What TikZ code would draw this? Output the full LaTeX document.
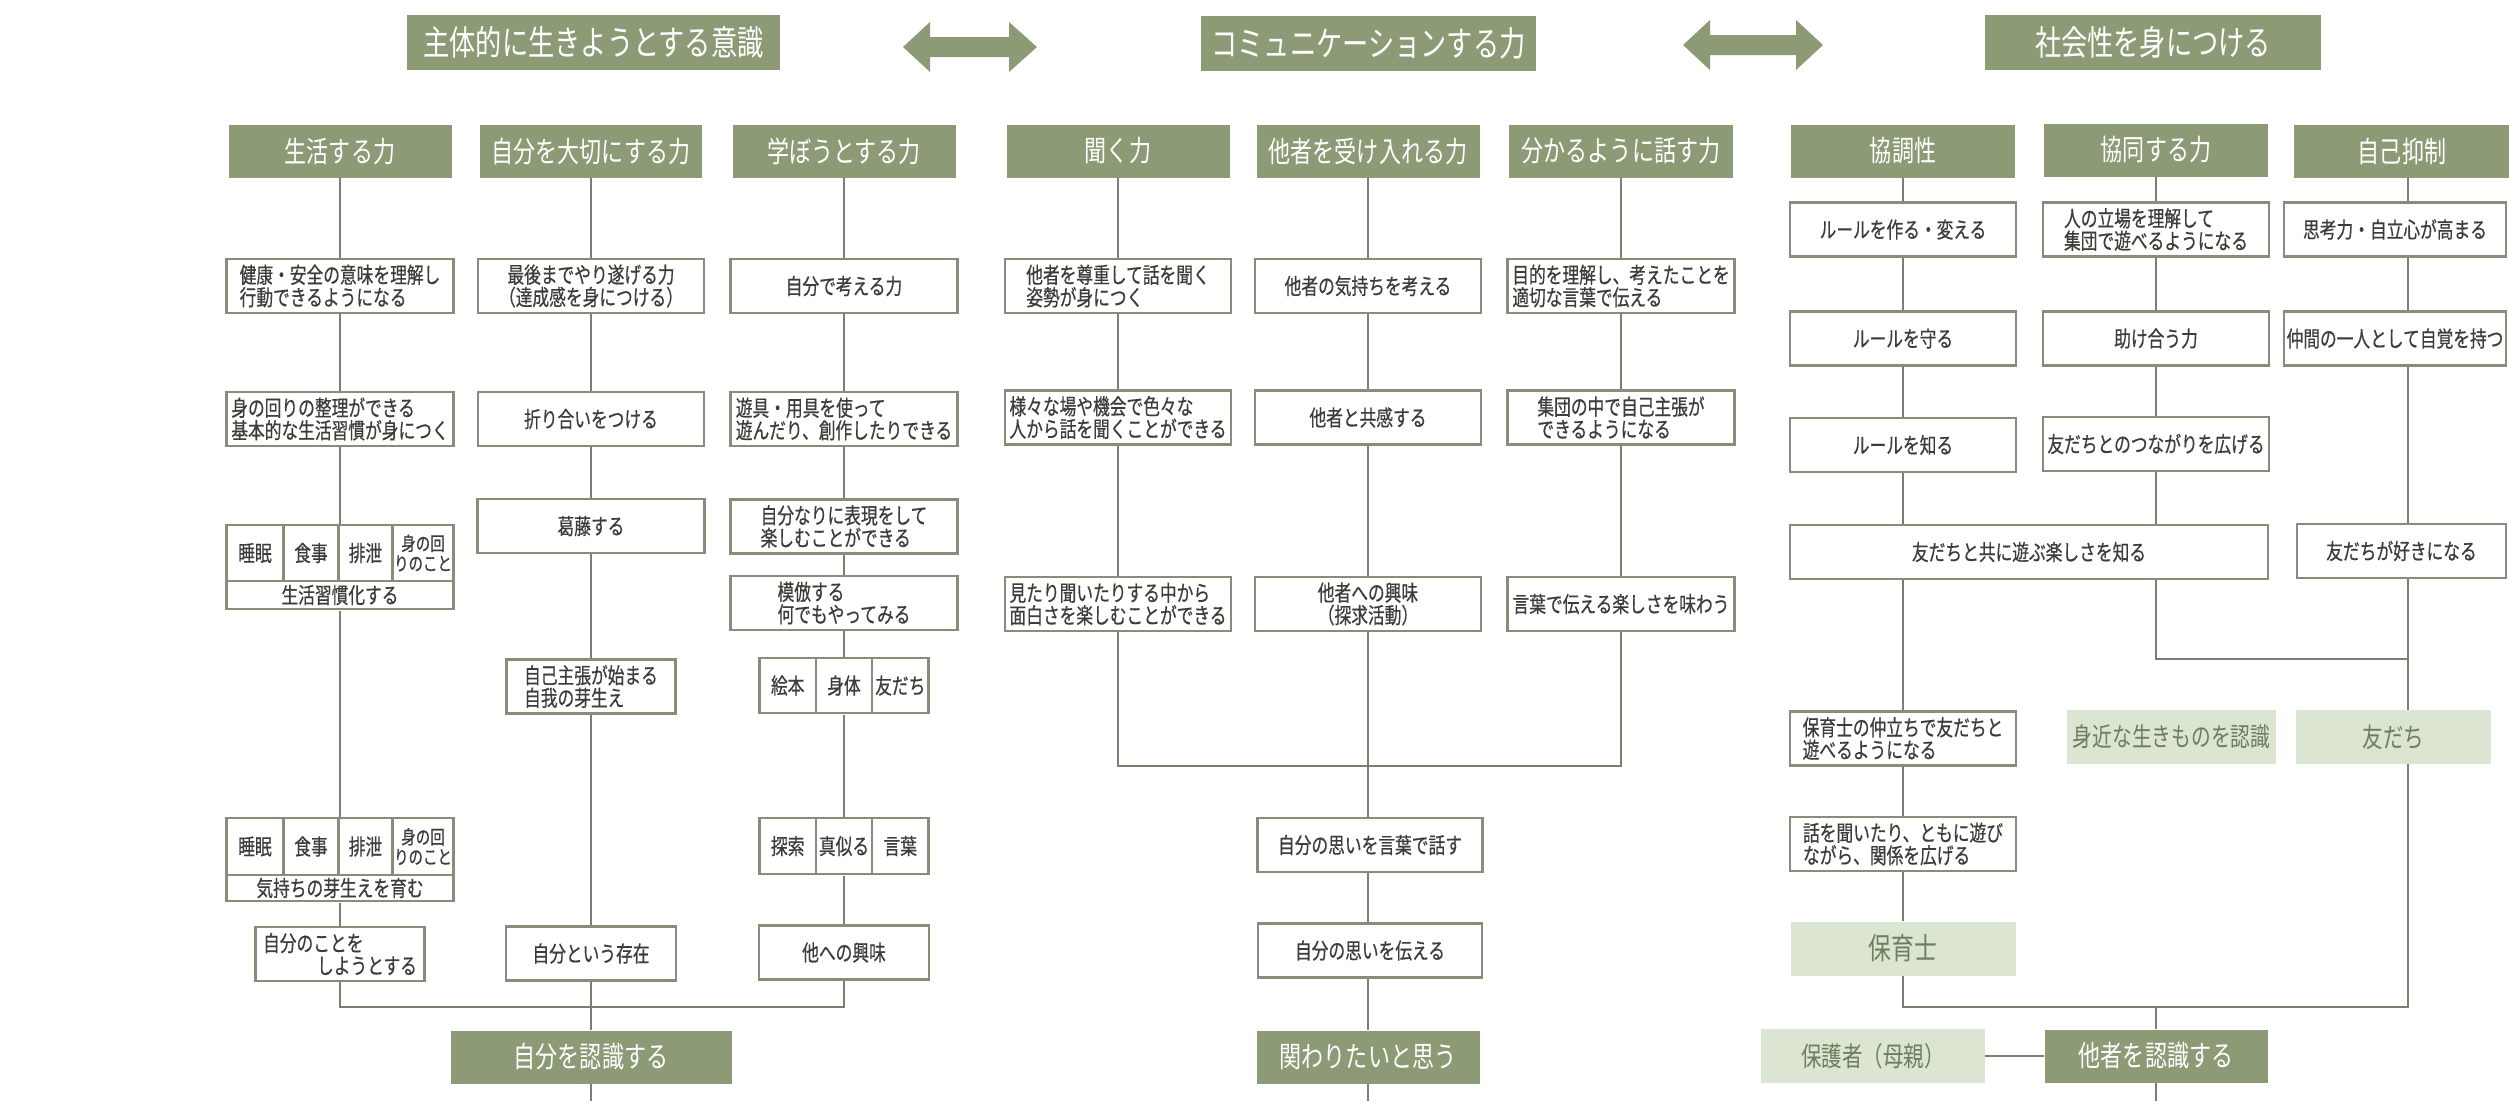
\documentclass[tikz,border=0pt]{standalone}
\usepackage{fontspec}
\setmainfont{Noto Sans CJK JP}[FakeStretch=0.76]
\newfontfamily\boxfont{Noto Sans CJK JP}[FakeStretch=0.76, FakeBold=0.5]
\usepackage{xcolor}
\usetikzlibrary{fit}

\definecolor{hgreen}{RGB}{141,154,118}
\definecolor{lgreen}{RGB}{220,228,210}
\definecolor{ltxt}{RGB}{110,126,92}
\definecolor{bline}{RGB}{139,139,123}
\definecolor{cline}{RGB}{126,126,112}
\definecolor{txt}{RGB}{60,60,56}

\begin{document}
\begin{tikzpicture}[x=1pt, y=-1pt,
  hd/.style={fill=hgreen, text=white, inner sep=0pt, minimum width=223pt,
    minimum height=53pt, font=\fontsize{29}{32}\selectfont},
  ttl/.style={hd, minimum height=55pt, font=\fontsize{34.5}{37}\selectfont},
  box/.style={draw=bline, line width=2.6pt, fill=white, text=txt,
    inner xsep=2pt, inner ysep=0pt, minimum width=226pt, minimum height=54pt,
    align=left, font=\boxfont\fontsize{22}{22.5}\selectfont},
  lbox/.style={fill=lgreen, text=ltxt, inner sep=0pt, minimum height=54pt,
    font=\fontsize{26}{28}\selectfont},
  cell/.style={box, minimum width=56pt, minimum height=56pt, inner xsep=0pt, align=center},
  conn/.style={draw=cline, line width=2pt}
]
  \fill[white] (0,0) rectangle (2509,1101);
  \useasboundingbox (0,0) rectangle (2509,1101);

  % titles and arrows
  \node[ttl, minimum width=373pt] (t1) at (593.5,42.5) {主体的に生きようとする意識};
  \node[ttl, minimum width=335pt] (t2) at (1368.5,43) {コミュニケーションする力};
  \node[ttl, minimum width=336pt] (t3) at (2153,42.5) {社会性を身につける};
  \coordinate (arL) at (903,47);
  \coordinate (arR) at (1683,45);
  \fill[hgreen] (arL) -- ++(27,-25) -- ++(0,15) -- ++(79,0) -- ++(0,-15) -- ++(28,25)
    -- ++(-28,25) -- ++(0,-15) -- ++(-79,0) -- ++(0,15) -- cycle;
  \fill[hgreen] (arR) -- ++(27,-25) -- ++(0,15) -- ++(86,0) -- ++(0,-15) -- ++(27,25)
    -- ++(-27,25) -- ++(0,-15) -- ++(-86,0) -- ++(0,15) -- cycle;

  % headers
  \node[hd] (hA) at (340,151.5) {生活する力};
  \node[hd, minimum width=222pt] (hB) at (591,151.5) {自分を大切にする力};
  \node[hd] (hC) at (844,151.5) {学ぼうとする力};
  \node[hd] (hD) at (1118,151) {聞く力};
  \node[hd] (hE) at (1368,151) {他者を受け入れる力};
  \node[hd, minimum width=224pt] (hF) at (1621,151) {分かるように話す力};
  \node[hd, minimum width=224pt] (hG) at (1903,151) {協調性};
  \node[hd, minimum width=224pt] (hH) at (2156,150) {協同する力};
  \node[hd, minimum width=216pt] (hI) at (2402,151) {自己抑制};

  % left page
  \node[box, minimum width=227pt] (a1) at (340,286) {健康・安全の意味を理解し\\行動できるようになる};
  \node[box, minimum width=227pt] (a2) at (340,419) {身の回りの整理ができる\\基本的な生活習慣が身につく};
  \node[cell, minimum width=57pt] (s1) at (255,553) {睡眠};
  \node[cell, minimum width=55pt] (s2) at (311,553) {食事};
  \node[cell, minimum width=54pt] (s3) at (365.5,553) {排泄};
  \node[cell, minimum width=61pt, font=\boxfont\fontsize{19}{20}\selectfont] (s4) at (423,553) {身の回\\りのこと};
  \node[cell, minimum width=227pt, minimum height=28pt] (s5) at (340,595) {生活習慣化する};
  \node[fit=(s1)(s4)(s5), inner sep=0pt] (habit1) {};
  \node[cell, minimum width=57pt, minimum height=57pt] (k1) at (255,846.5) {睡眠};
  \node[cell, minimum width=55pt, minimum height=57pt] (k2) at (311,846.5) {食事};
  \node[cell, minimum width=54pt, minimum height=57pt] (k3) at (365.5,846.5) {排泄};
  \node[cell, minimum width=61pt, minimum height=57pt, font=\boxfont\fontsize{19}{20}\selectfont] (k4) at (423,846.5) {身の回\\りのこと};
  \node[cell, minimum width=227pt, minimum height=26pt] (k5) at (340,888) {気持ちの芽生えを育む};
  \node[fit=(k1)(k4)(k5), inner sep=0pt] (habit2) {};
  \node[box, minimum width=169pt] (a5) at (340,954) {自分のことを\\\hspace*{54pt}しようとする};

  \node[box, align=center] (b1) at (591,286) {最後までやり遂げる力\\（達成感を身につける）};
  \node[box] (b2) at (591,419) {折り合いをつける};
  \node[box, minimum width=227pt] (b3) at (591,526) {葛藤する};
  \node[box, minimum width=169pt] (b4) at (591,686.5) {自己主張が始まる\\自我の芽生え};
  \node[box, minimum width=170pt] (b5) at (591,953.5) {自分という存在};
  \node[hd, minimum width=281pt] (me) at (591,1057) {自分を認識する};
  \coordinate (mout) at (591,1101);

  \node[box, minimum width=227pt] (c1) at (844,286) {自分で考える力};
  \node[box, minimum width=227pt] (c2) at (844,419) {遊具・用具を使って\\遊んだり、創作したりできる};
  \node[box, minimum width=227pt] (c3) at (844,526.5) {自分なりに表現をして\\楽しむことができる};
  \node[box, minimum width=227pt] (c4) at (844,603) {模倣する\\何でもやってみる};
  \node[cell, minimum width=56.3pt, minimum height=55pt] (e1c) at (787.7,685.5) {絵本};
  \node[cell, minimum width=56.3pt, minimum height=55pt] (e2c) at (844,685.5) {身体};
  \node[cell, minimum width=56.3pt, minimum height=55pt] (e3c) at (900.3,685.5) {友だち};
  \node[fit=(e1c)(e3c), inner sep=0pt] (ehon) {};
  \node[cell, minimum width=56.3pt] (q1c) at (787.7,846) {探索};
  \node[cell, minimum width=56.3pt] (q2c) at (844,846) {真似る};
  \node[cell, minimum width=56.3pt] (q3c) at (900.3,846) {言葉};
  \node[fit=(q1c)(q3c), inner sep=0pt] (tansaku) {};
  \node[box, minimum width=170pt] (c7) at (844,952.5) {他への興味};
  \coordinate (jl) at (591,1007);

  \draw[conn] (hA) -- (a1) -- (a2) -- (habit1) -- (habit2) -- (a5);
  \draw[conn] (hB) -- (b1) -- (b2) -- (b3) -- (b4) -- (b5) -- (me) -- (mout);
  \draw[conn] (hC) -- (c1) -- (c2) -- (c3) -- (c4) -- (ehon) -- (tansaku) -- (c7);
  \draw[conn] (a5) |- (jl) -| (c7);

  % middle page
  \node[box] (d1) at (1118,286) {他者を尊重して話を聞く\\姿勢が身につく};
  \node[box] (d2) at (1118,417.5) {様々な場や機会で色々な\\人から話を聞くことができる};
  \node[box] (d3) at (1118,604) {見たり聞いたりする中から\\面白さを楽しむことができる};
  \node[box] (e1) at (1368,286) {他者の気持ちを考える};
  \node[box] (e2) at (1368,417.5) {他者と共感する};
  \node[box, align=center] (e3) at (1368,604) {他者への興味\\（探求活動）};
  \node[box, minimum width=225pt] (e4) at (1370,845) {自分の思いを言葉で話す};
  \node[box, minimum width=224pt] (e5) at (1370,950.5) {自分の思いを伝える};
  \node[hd] (kk) at (1368,1057) {関わりたいと思う};
  \coordinate (kout) at (1368,1101);
  \node[box, minimum width=227pt] (f1) at (1621,286) {目的を理解し、考えたことを\\適切な言葉で伝える};
  \node[box, minimum width=227pt] (f2) at (1621,417.5) {集団の中で自己主張が\\できるようになる};
  \node[box, minimum width=227pt] (f3) at (1621,604) {言葉で伝える楽しさを味わう};
  \coordinate (jm) at (1368,766);

  \draw[conn] (hD) -- (d1) -- (d2) -- (d3);
  \draw[conn] (hE) -- (e1) -- (e2) -- (e3) -- (e3 |- e4.north);
  \draw[conn] (e4.south -| kk) -- (e5.north -| kk);
  \draw[conn] (e5.south -| kk) -- (kk) -- (kout);
  \draw[conn] (hF) -- (f1) -- (f2) -- (f3);
  \draw[conn] (d3) |- (jm) -| (f3);

  % right page
  \node[box] (g1) at (1903,229.5) {ルールを作る・変える};
  \node[box] (g2) at (1903,338.5) {ルールを守る};
  \node[box] (g3) at (1903,445) {ルールを知る};
  \node[box, minimum width=478pt] (asobu) at (2029,552) {友だちと共に遊ぶ楽しさを知る};
  \node[box] (g5) at (1903,738.5) {保育士の仲立ちで友だちと\\遊べるようになる};
  \node[box] (g6) at (1903,844) {話を聞いたり、ともに遊び\\ながら、関係を広げる};
  \node[lbox, minimum width=225pt, font=\fontsize{30}{32}\selectfont] (hoiku) at (1903,948.5) {保育士};
  \node[box] (h1) at (2156,229.5) {人の立場を理解して\\集団で遊べるようになる};
  \node[box] (h2) at (2156,338.5) {助け合う力};
  \node[box] (h3) at (2156,444) {友だちとのつながりを広げる};
  \node[lbox, minimum width=209pt] (mijika) at (2171.5,737) {身近な生きものを認識};
  \node[box, minimum width=222pt] (i1) at (2395,229.5) {思考力・自立心が高まる};
  \node[box, minimum width=222pt] (i2) at (2395,338.5) {仲間の一人として自覚を持つ};
  \node[box, minimum width=209pt] (i3) at (2401.5,551) {友だちが好きになる};
  \node[lbox, minimum width=195pt, font=\fontsize{27}{29}\selectfont] (tomo) at (2393.5,737) {友だち};
  \node[hd] (tasha) at (2156,1056) {他者を認識する};
  \node[lbox, minimum width=224pt, font=\fontsize{27}{29}\selectfont] (hogo) at (1873,1056) {保護者（母親）};
  \coordinate (ci) at (2408,0);
  \coordinate (jh) at (2408,659);
  \coordinate (jr) at (2156,1007);
  \coordinate (tout) at (2156,1101);

  \draw[conn] (hG) -- (g1) -- (g2) -- (g3) -- (g3 |- asobu.north);
  \draw[conn] (asobu.south -| g3) -- (g5) -- (g6) -- (hoiku);
  \draw[conn] (hH) -- (h1) -- (h2) -- (h3) -- (h3 |- asobu.north);
  \draw[conn] (asobu.south -| h3) |- (jh);
  \draw[conn] (hI.south -| ci) -- (i1.north -| ci);
  \draw[conn] (i1.south -| ci) -- (i2.north -| ci);
  \draw[conn] (i2.south -| ci) -- (i3.north -| ci);
  \draw[conn] (i3.south -| ci) -- (tomo.north -| ci);
  \draw[conn] (hoiku) |- (jr) -| (tomo.south -| ci);
  \draw[conn] (jr) -- (tasha) -- (tout);
  \draw[conn] (hogo) -- (tasha);
\end{tikzpicture}
\end{document}
